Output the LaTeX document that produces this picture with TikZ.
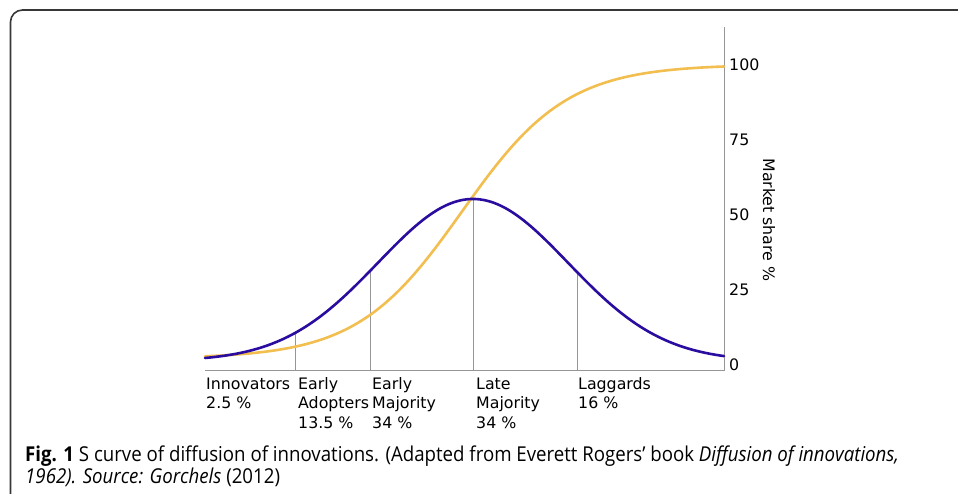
\documentclass[tikz,border=0pt]{standalone}
\usepackage{fontspec}
\setmainfont{Open Sans}
\newfontfamily\capfont[FakeStretch=0.91]{Open Sans}
\newfontfamily\chartfont{DejaVu Sans}
\definecolor{bellblue}{RGB}{42,12,160}
\definecolor{sorange}{RGB}{242,190,80}
\definecolor{axisgray}{RGB}{150,150,150}
\definecolor{framegray}{RGB}{55,55,55}
\tikzset{
  chartlbl/.style={font=\chartfont\fontsize{15.8}{19}\selectfont, inner sep=0pt, anchor=base west},
  ticklbl/.style={font=\chartfont\fontsize{15.8}{19}\selectfont, inner sep=0pt, anchor=west},
  caplbl/.style={font=\capfont\fontsize{20.5}{24}\selectfont, inner sep=0pt, anchor=base west},
  gridline/.style={draw=axisgray, line width=1pt},
  bellcurve/.style={draw=bellblue, line width=2.6pt},
  scurve/.style={draw=sorange, line width=2.6pt},
  declare function={bell(\x)=361-162*exp(-0.5*((\x-473)/95)^2);
                    scur(\x)=358.5-294/(1+exp(-1.75*(\x-462)/92));}
}
\begin{document}
\begin{tikzpicture}[x=1pt,y=-1pt]
\useasboundingbox (0,0) rectangle (958,494);
% frame
\draw[framegray, line width=1.6pt] (10.5,500) -- (10.5,22) arc[start angle=180, end angle=270, radius=12] -- (965,10);
% axes
\coordinate (o) at (205,370);
\coordinate (xr) at (724,370);
\coordinate (yt) at (724,27);
\draw[gridline] (o) -- (xr) -- (yt);
% vertical guide lines
\foreach \xx in {295,370,473,577}{
  \draw[gridline] (\xx,370) -- (\xx,{bell(\xx)});
}
% curves
\draw[scurve, line cap=round] plot[domain=205:724, samples=120, smooth] (\x,{scur(\x)});
\draw[bellcurve, line cap=round] plot[domain=205:724, samples=120, smooth] (\x,{bell(\x)});
% tick labels
\node[ticklbl] (t100) at (729,65) {100};
\node[ticklbl] (t75) at (729,140) {75};
\node[ticklbl] (t50) at (729,215) {50};
\node[ticklbl] (t25) at (729,290) {25};
\node[ticklbl] (t0) at (729,365) {0};
\node[font=\chartfont\fontsize{15.8}{19}\selectfont, inner sep=0pt, rotate=-90] (ylab) at (769,220) {Market share \%};
% category labels
\node[chartlbl] (inn1) at (206,389) {Innovators};
\node[chartlbl] (inn2) at (206,408.5) {2.5 \%};
\node[chartlbl] (ea1) at (298,389) {Early};
\node[chartlbl] (ea2) at (298,408.5) {Adopters};
\node[chartlbl] (ea3) at (298,428) {13.5 \%};
\node[chartlbl] (em1) at (372,389) {Early};
\node[chartlbl] (em2) at (372,408.5) {Majority};
\node[chartlbl] (em3) at (372,428) {34 \%};
\node[chartlbl] (lm1) at (476,389) {Late};
\node[chartlbl] (lm2) at (476,408.5) {Majority};
\node[chartlbl] (lm3) at (476,428) {34 \%};
\node[chartlbl] (lg1) at (578,389) {Laggards};
\node[chartlbl] (lg2) at (578,408.5) {16 \%};
% caption
\node[caplbl] (cap1) at (25,461) {\textbf{Fig. 1} S curve of diffusion of innovations. (Adapted from Everett Rogers’ book \textit{Diffusion of innovations,}};
\node[caplbl] (cap2) at (25,483) {\textit{1962). Source: Gorchels} (2012)};
\end{tikzpicture}
\end{document}
